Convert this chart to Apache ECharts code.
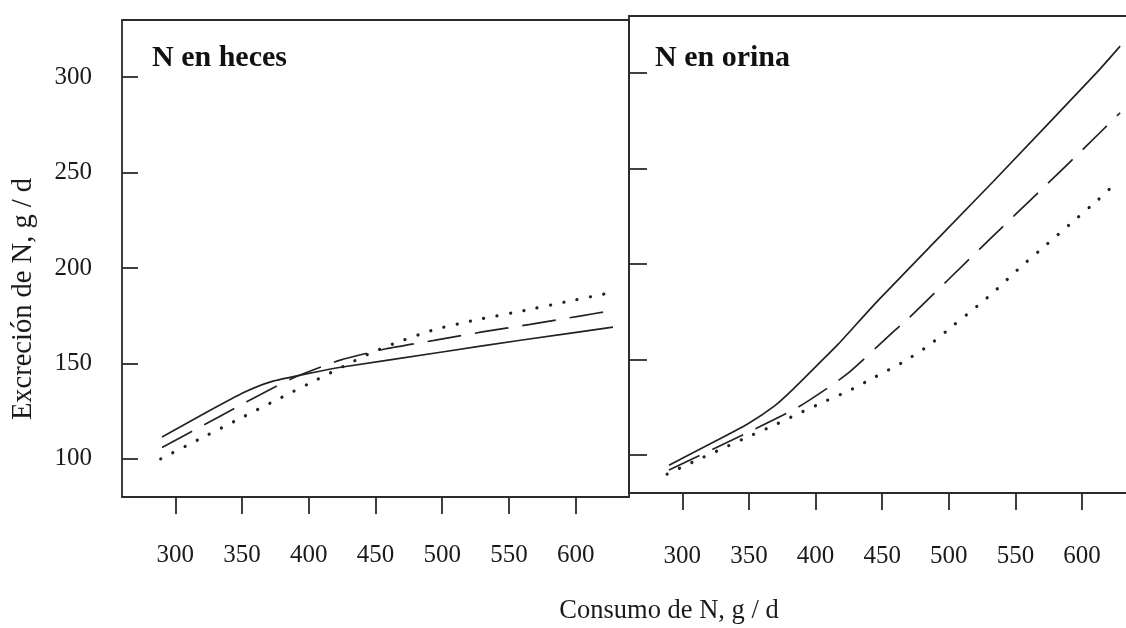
<!DOCTYPE html>
<html>
<head>
<meta charset="utf-8">
<script src="https://cdn.jsdelivr.net/npm/echarts@6/dist/echarts.min.js"></script>
<style>
  html, body { margin: 0; padding: 0; background: #ffffff; }
  #chart { width: 1126px; height: 628px; }
</style>
</head>
<body>
<div id="chart"></div>
<script>
// Tick positions shared by both panels
const xTicks = [300, 350, 400, 450, 500, 550, 600];
const yTicks = [100, 150, 200, 250, 300];

// Panel titles and axis titles
const panelTitles = ['N en heces', 'N en orina'];
const xTitle = 'Consumo de N, g / d';
const yTitle = 'Excreción de N, g / d';

// N en heces: [consumo, excreción]
const hecesSolid = [[290, 111.5], [321, 123.5], [352, 135], [372, 140.5], [398, 144.5], [424, 148], [500, 156], [560, 162.3], [628, 169]];
const hecesDashed = [[290, 106], [316, 115.7], [351, 129], [387, 142], [423, 151.6], [458, 157.7], [494, 162.1], [530, 166.5], [566, 170.5], [602, 174.7], [628, 177.8]];
const hecesDotted = [[289, 100], [318.5, 110.5], [348, 121], [377, 131.3], [406, 141.5], [426, 148.5], [445, 155], [465, 160.7], [494, 167.7], [524, 172.6], [562, 177.8], [592, 182.2], [622, 186.5]];

// N en orina: [consumo, excreción]
const orinaSolid = [[290, 94.6], [321, 105.8], [349, 116.2], [369, 125.5], [384, 135], [402, 147.5], [417, 158], [447, 181], [533, 243], [611, 300.3], [628.6, 314.2]];
const orinaDashed = [[290, 92], [350, 112], [387, 125], [423, 142], [458.5, 164.6], [469, 171], [531.6, 213.6], [567, 237.3], [602, 261], [628.6, 279.3]];
const orinaDotted = [[288.6, 89.9], [307.5, 96.1], [327.6, 102.5], [347, 108.7], [366.7, 114.8], [386.3, 121.3], [405.7, 127.6], [425.9, 133.9], [445.2, 141], [464.9, 148.3], [484.5, 157.1], [503.9, 168.1], [514, 173.8], [524.1, 179.5], [534.2, 185.6], [553, 197.9], [573.2, 210.1], [592, 221.5], [612.2, 233.8], [621.5, 239.9]];

const ink = '#1a1a1a';
const frame = { color: '#2b2b2b', width: 1.8 };
const serif = 'Liberation Serif';

function bottomAxis(grid, min, max, margin) {
  return {
    gridIndex: grid, type: 'value', min: min, max: max, position: 'bottom',
    axisLine: { show: true, onZero: false, lineStyle: frame },
    axisTick: { show: true, length: 17, customValues: xTicks, lineStyle: frame },
    axisLabel: { customValues: xTicks, margin: margin, fontFamily: serif, fontSize: 25, color: ink },
    splitLine: { show: false }
  };
}
function frameAxis(grid, pos, min, max) {
  return {
    gridIndex: grid, type: 'value', min: min, max: max, position: pos,
    axisLine: { show: true, onZero: false, lineStyle: frame },
    axisTick: { show: false }, axisLabel: { show: false }, splitLine: { show: false }
  };
}
function line(data, xi, yi, style) {
  return {
    type: 'line', data: data, xAxisIndex: xi, yAxisIndex: yi,
    symbol: 'none', smooth: 0.2, silent: true, animation: false,
    lineStyle: Object.assign({ color: '#222', width: 1.7 }, style)
  };
}

const solid = { type: 'solid' };
const dashed = { type: [34, 14], cap: 'butt' };
const dotted = { type: [0.1, 13.5], cap: 'round', width: 3.2 };

const chart = echarts.init(document.getElementById('chart'), null, { renderer: 'canvas' });
chart.setOption({
  animation: false,
  backgroundColor: '#ffffff',
  title: [
    { text: panelTitles[0], left: 152, top: 43, padding: 0,
      textStyle: { fontFamily: serif, fontWeight: 'bold', fontSize: 30, color: '#111' } },
    { text: panelTitles[1], left: 655, top: 43, padding: 0,
      textStyle: { fontFamily: serif, fontWeight: 'bold', fontSize: 30, color: '#111' } }
  ],
  grid: [
    { left: 122, top: 20, width: 507, height: 477 },
    { left: 629, top: 16, width: 497, height: 477 }
  ],
  xAxis: [
    bottomAxis(0, 260, 640, 46),
    frameAxis(0, 'top', 260, 640),
    bottomAxis(1, 260, 633, 51),
    frameAxis(1, 'top', 260, 633)
  ],
  yAxis: [
    {
      gridIndex: 0, type: 'value', min: 80, max: 330, position: 'left',
      axisLine: { show: true, onZero: false, lineStyle: frame },
      axisTick: { show: true, inside: true, length: 16, customValues: yTicks, lineStyle: frame },
      axisLabel: { customValues: yTicks, margin: 30, fontFamily: serif, fontSize: 25, color: ink },
      splitLine: { show: false }
    },
    frameAxis(0, 'right', 80, 330),
    {
      gridIndex: 1, type: 'value', min: 80, max: 330, position: 'left',
      axisLine: { show: true, onZero: false, lineStyle: frame },
      axisTick: { show: true, inside: true, length: 18, customValues: yTicks, lineStyle: frame },
      axisLabel: { show: false },
      splitLine: { show: false }
    }
  ],
  graphic: [
    { type: 'text', x: 669, y: 611, silent: true,
      style: { text: xTitle, fontFamily: serif, fontSize: 26.5, fill: ink, align: 'center', verticalAlign: 'middle' } },
    { type: 'text', x: 24, y: 299, rotation: Math.PI / 2, silent: true,
      style: { text: yTitle, fontFamily: serif, fontSize: 28.5, fill: ink, align: 'center', verticalAlign: 'middle' } }
  ],
  series: [
    line(hecesSolid, 0, 0, solid),
    line(hecesDashed, 0, 0, dashed),
    line(hecesDotted, 0, 0, dotted),
    line(orinaSolid, 2, 2, solid),
    line(orinaDashed, 2, 2, dashed),
    line(orinaDotted, 2, 2, dotted)
  ]
});
</script>
</body>
</html>
